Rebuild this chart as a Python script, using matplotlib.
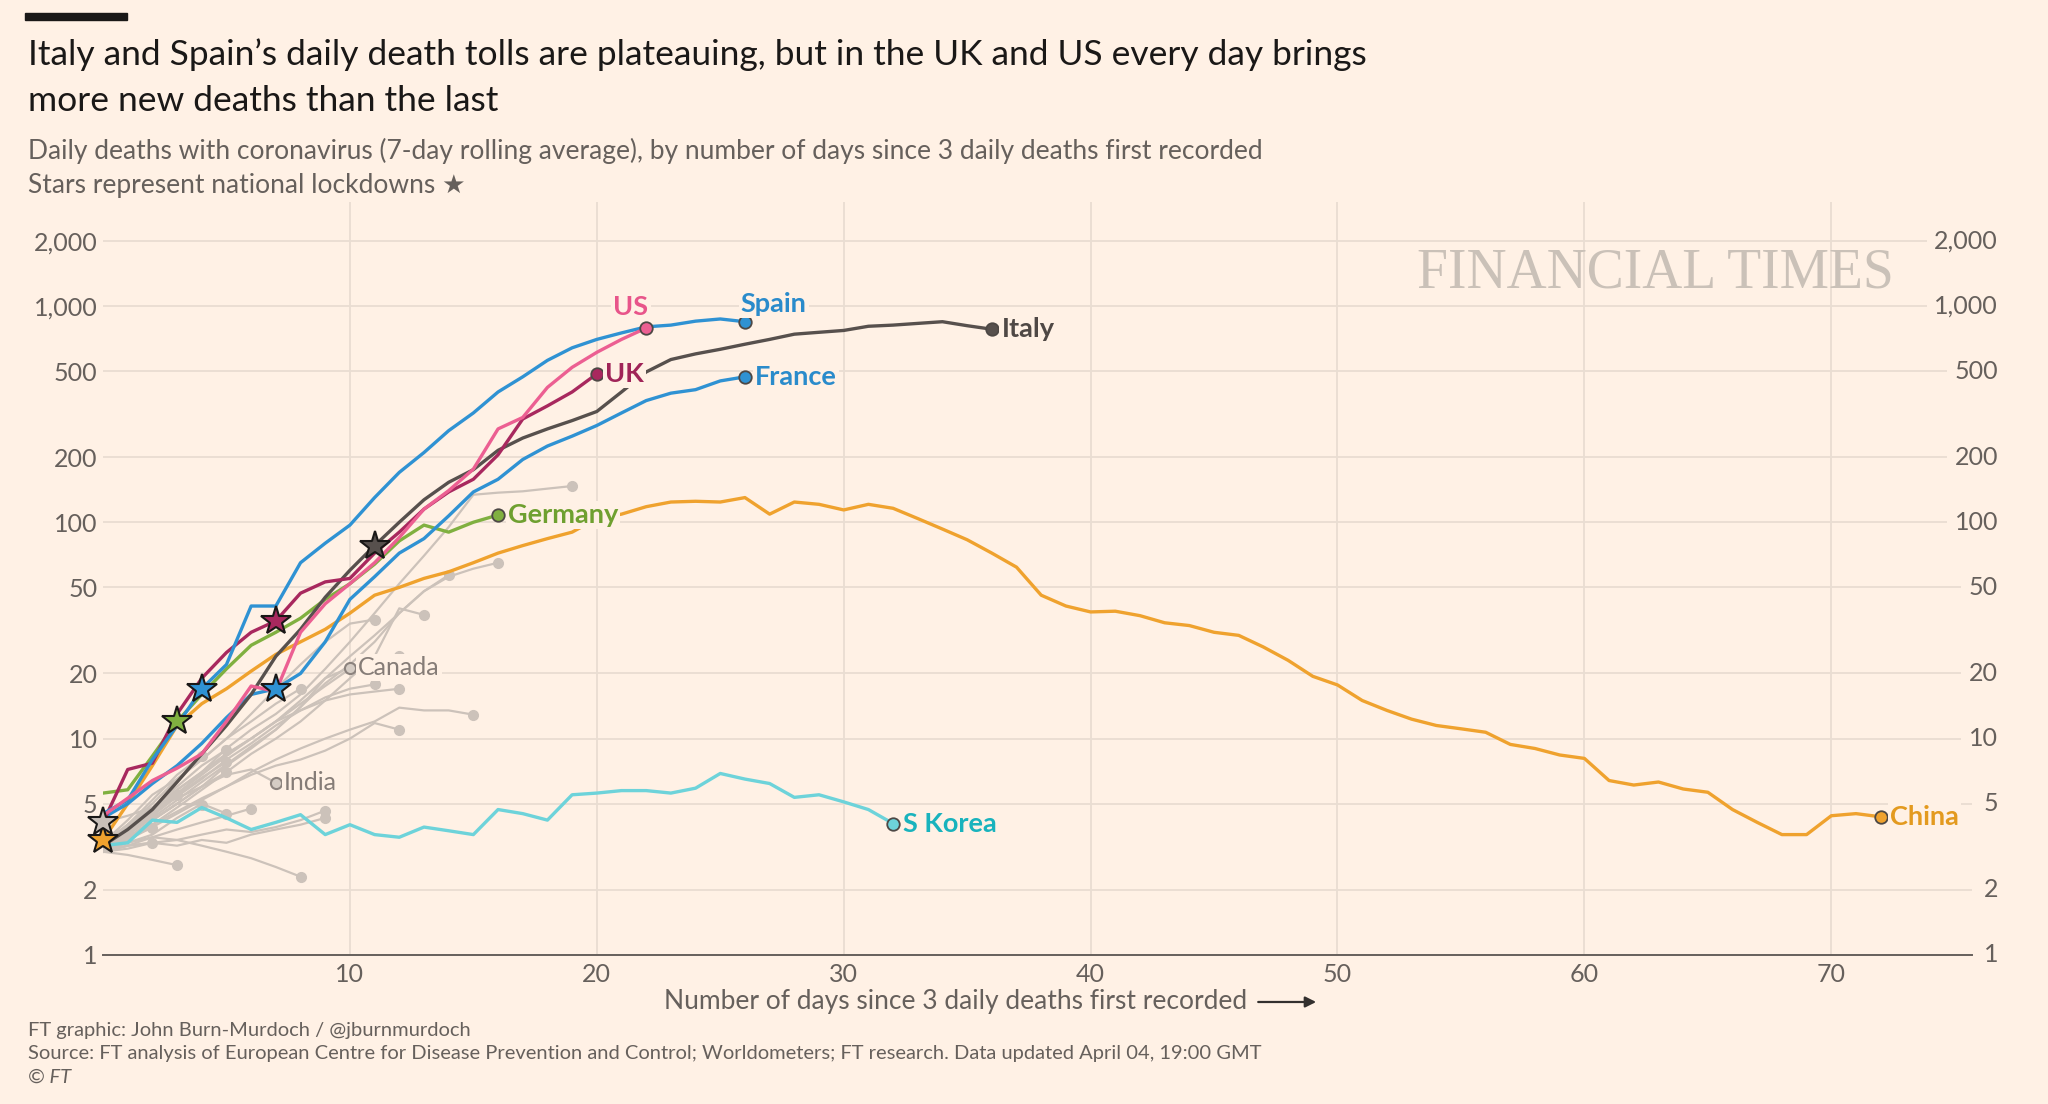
import numpy as np
import matplotlib
matplotlib.use("Agg")
import matplotlib.pyplot as plt
from matplotlib.patches import Rectangle
from matplotlib.transforms import blended_transform_factory

plt.rcParams['font.family'] = ['Lato', 'DejaVu Sans']

# ---- data (7-day avg daily deaths, by day since 3 daily deaths) ----
italy = [3.2, 3.8, 4.7, 6.3, 8.5, 11.5, 16, 24, 32, 45, 60, 78, 100, 127, 153, 175, 215,
         245, 270, 295, 325, 400, 495, 565, 600, 630, 665, 700, 740, 755, 770, 805, 815,
         830, 845, 810, 780]
spain = [4.5, 5.2, 8, 11.5, 17, 22, 41, 41, 65, 80, 97, 130, 170, 210, 265, 320, 400,
         470, 560, 640, 700, 750, 800, 815, 850, 870, 845]
us = [4.4, 5.3, 6.4, 7.3, 8.5, 12, 17.5, 16.5, 31, 42, 52, 65, 85, 115, 140, 176, 270,
      305, 420, 520, 610, 700, 790]
uk = [4.1, 7.2, 7.7, 13, 19, 25, 31, 35, 47, 53, 55, 72, 90, 115, 138, 158, 205, 300,
      345, 400, 485]
france = [4.3, 5.0, 6.2, 7.5, 9.5, 12.5, 16, 17, 20, 28, 44, 56, 72, 84, 107, 138, 158,
          195, 225, 250, 280, 320, 365, 395, 410, 450, 470]
germany = [5.6, 5.8, 8.3, 12, 16, 21, 27, 31, 36, 44, 52, 64, 82, 97, 90, 100, 108]
china = [3.4, 5.0, 7.5, 11.5, 14.5, 17, 20.5, 24.5, 28, 32, 38, 46, 50, 55, 59, 65, 72,
         78, 84, 90, 104, 109, 118, 124, 125, 124, 130, 109, 124, 121, 114, 121, 116,
         104, 93, 83, 72, 62, 46, 41, 38.5, 38.8, 37, 34.3, 33.3, 31, 30, 26.5, 23, 19.4,
         17.7, 15, 13.5, 12.3, 11.5, 11.1, 10.7, 9.4, 9.0, 8.4, 8.1, 6.4, 6.1, 6.3, 5.85,
         5.65, 4.7, 4.1, 3.6, 3.6, 4.4, 4.5, 4.35]
skorea = [3.2, 3.3, 4.2, 4.1, 4.8, 4.3, 3.8, 4.1, 4.45, 3.6, 4.0, 3.6, 3.5, 3.9, 3.75,
          3.6, 4.7, 4.5, 4.2, 5.5, 5.6, 5.75, 5.75, 5.6, 5.9, 6.9, 6.5, 6.2, 5.35, 5.5,
          5.1, 4.7, 4.05]
canada = [3.0, 3.6, 4.3, 5.2, 6.3, 7.6, 9.2, 11, 14, 19, 21.3]
india = [4.1, 4.4, 4.8, 5.3, 6.0, 6.8, 7.2, 6.25]

others = [
    [3.0, 3.6, 4.5, 5.5, 7.0, 9.0, 11, 13, 16, 21, 28, 38, 52, 70, 95, 134, 137, 139, 143, 147],
    [3.0, 3.4, 4.2, 5.0, 6.0, 7.5, 9.0, 11, 14, 18, 22, 28, 38, 48, 56, 61, 65],
    [3.2, 3.8, 4.5, 5.8, 7.0, 8.5, 10, 12, 15, 19, 24, 30, 38, 48, 57],
    [3.1, 3.5, 4.0, 4.8, 5.8, 7.0, 8.5, 10, 12, 15, 19, 24, 40, 37.3],
    [3.3, 4.2, 5.5, 6.5, 8.0, 10, 13, 17, 22, 28, 34, 35.5],
    [3.1, 3.8, 4.6, 5.6, 6.8, 8.3, 10, 12, 14.5, 17.5, 21, 23.5, 24],
    [3.2, 3.9, 4.8, 5.8, 7.0, 8.5, 10, 12, 13.5, 15.5, 17, 17.8],
    [3.0, 3.6, 4.4, 5.4, 6.5, 8.0, 9.5, 11.5, 13.5, 15, 16, 16.5, 17],
    [3.0, 3.4, 3.9, 4.5, 5.2, 6.0, 7.0, 8.0, 9.0, 10.0, 11.0, 12.0, 13.9, 13.5, 13.5, 12.9],
    [3.1, 3.5, 4.0, 4.6, 5.3, 6.0, 6.8, 7.5, 8.0, 8.8, 10, 11.8, 11],
    [3.2, 4.0, 5.0, 6.5, 8.0, 10, 12, 14.5, 17],
    [3.2, 4.0, 5.2, 6.8, 8.3],
    [3.0, 3.8, 4.8, 6.0, 7.5, 8.9],
    [3.1, 3.7, 4.5, 5.5, 6.6, 7.8],
    [3.0, 3.5, 4.2, 5.0, 6.0, 7.0],
    [3.3, 4.0, 4.8, 5.5],
    [3.0, 3.4, 4.2, 5.0, 4.95],
    [3.0, 3.3, 3.6, 4.3, 5.0, 4.5],
    [3.0, 3.2, 3.5, 3.8, 4.1, 4.4, 4.75],
    [3.1, 3.3, 3.5, 3.4, 3.6, 3.8, 3.7, 3.9, 4.2, 4.65],
    [3.0, 3.1, 3.3, 3.2, 3.4, 3.3, 3.6, 3.8, 4.0, 4.3],
    [3.2, 3.9, 4.5],
    [3.0, 3.5, 3.87],
    [3.0, 3.2, 3.3],
    [3.0, 2.9, 2.75, 2.6],
    [3.0, 3.2, 3.3, 3.4, 3.2, 3.0, 2.8, 2.55, 2.3],
    [3.0, 3.6],
]

lockdown_day = {'China': 0, 'India': 0, 'Germany': 3, 'Spain': 4, 'UK': 7,
                'France': 7, 'Italy': 11}

y_ticks = [1, 2, 5, 10, 20, 50, 100, 200, 500, 1000, 2000]
y_labels = ['1', '2', '5', '10', '20', '50', '100', '200', '500', '1,000', '2,000']
x_ticks = [10, 20, 30, 40, 50, 60, 70]

# ---- styles ----
bg = '#FFF1E5'
grid_c = '#E9DDD2'
txt_grey = '#66605C'
grey_line = '#CCC2BA'

main = [
    # name, data, line colour, label colour, label offset (pt), ha
    ('China', china, '#EFA22E', '#E39A1F', (7, 0), 'left'),
    ('S Korea', skorea, '#6DD3DA', '#19B3BD', (7, 0), 'left'),
    ('Germany', germany, '#80B040', '#6FA030', (7, 0), 'left'),
    ('France', france, '#2F92D3', '#2A8BCB', (7, 0), 'left'),
    ('Italy', italy, '#57504D', '#4F4845', (7, 0), 'left'),
    ('UK', uk, '#A8285E', '#A02458', (6, 0), 'left'),
    ('Spain', spain, '#2F92D3', '#2A8BCB', (-3, 13), 'left'),
    ('US', us, '#EC5F92', '#E8558A', (-11, 15), 'center'),
]
star_fill = {'China': '#EFA22E', 'India': '#C9C0B9', 'Germany': '#80B040',
             'Spain': '#2F92D3', 'UK': '#A8285E', 'France': '#2F92D3',
             'Italy': '#57504D'}

fig = plt.figure(figsize=(20.48, 11.04), dpi=100, facecolor=bg)
ax = fig.add_axes([0.0503, 0.135, 0.9126, 0.682])
ax.set_facecolor(bg)
ax.set_yscale('log')
ax.set_xlim(0, 75.7)
ax.set_ylim(1, 3020)

for s in ['top', 'right', 'left']:
    ax.spines[s].set_visible(False)
ax.spines['bottom'].set_color(txt_grey)
ax.spines['bottom'].set_linewidth(1.4)

ax.set_yticks(y_ticks)
ax.set_yticklabels(y_labels)
ax.yaxis.set_minor_locator(matplotlib.ticker.NullLocator())
ax.set_xticks(x_ticks)
ax.tick_params(axis='both', length=0, labelsize=18, labelcolor=txt_grey)
ax.tick_params(axis='y', pad=4)
ax.tick_params(axis='x', pad=6)
ax.grid(True, color=grid_c, linewidth=1.3, zorder=0)
ax.set_axisbelow(True)

# right hand labels
tr = blended_transform_factory(ax.transAxes, ax.transData)
for v, lab in zip(y_ticks, y_labels):
    ax.text(1.0139, v, lab, transform=tr, ha='right', va='center', fontsize=18,
            color=txt_grey, zorder=5, clip_on=False,
            bbox=dict(boxstyle='square,pad=0.3', fc=bg, ec='none'))

label_box = dict(boxstyle='square,pad=0.08', fc=bg, ec='none')

# grey countries
for vals in others:
    d = np.arange(len(vals))
    ax.plot(d, vals, color=grey_line, lw=1.6, zorder=2, solid_joinstyle='round')
    ax.plot(d[-1], vals[-1], 'o', color=grey_line, ms=7, zorder=2)

for name, vals in [('Canada', canada), ('India', india)]:
    d = np.arange(len(vals))
    ax.plot(d, vals, color=grey_line, lw=1.6, zorder=2)
    ax.plot(d[-1], vals[-1], 'o', mfc='#D5CCC4', mec='#8C837E', mew=1.5, ms=8, zorder=3)
    ax.annotate(name, (d[-1], vals[-1]), xytext=(6, 0), textcoords='offset points',
                ha='left', va='center', fontsize=18, color='#857C77', zorder=6,
                bbox=label_box)

series = {'Canada': canada, 'India': india}
for name, vals, lc, tc, off, ha in main:
    series[name] = vals
    d = np.arange(len(vals))
    ax.plot(d, vals, color=lc, lw=2.4, zorder=3, solid_joinstyle='round')
    ax.plot(d[-1], vals[-1], 'o', mfc=lc, mec='#4D4845', mew=1.3, ms=9, zorder=4)
    ax.annotate(name, (d[-1], vals[-1]), xytext=off, textcoords='offset points',
                ha=ha, va='center', fontsize=19.5, fontweight='bold', color=tc, zorder=6,
                bbox=label_box)

# lockdown stars
for name, day in lockdown_day.items():
    ax.plot(day, series[name][day], marker='*', ms=22, mfc=star_fill[name],
            mec='#1A1817', mew=1.5, zorder=7, clip_on=False)

# watermark
ax.text(0.958, 0.905, 'FINANCIAL TIMES', transform=ax.transAxes, ha='right', va='center',
        fontsize=40, color='#CAC1B8', family='Liberation Serif', zorder=1)

# header
fig.patches.append(Rectangle((25 / 2048, 1 - 20 / 1104), 102 / 2048, 7 / 1104,
                             transform=fig.transFigure, color='#1A1817'))
fig.text(0.0137, 0.9411, "Italy and Spain\u2019s daily death tolls are plateauing, but in the UK and US every day brings",
         fontsize=25.5, color='#1A1817', va='baseline')
fig.text(0.0137, 0.8995, "more new deaths than the last", fontsize=25.5, color='#1A1817',
         va='baseline')
fig.text(0.0137, 0.856, "Daily deaths with coronavirus (7-day rolling average), by number of days since 3 daily deaths first recorded",
         fontsize=19, color=txt_grey, va='baseline')
fig.text(0.0137, 0.8252, "Stars represent national lockdowns \u2605", fontsize=19,
         color=txt_grey, va='baseline')

# x axis label with arrow
fig.text(0.609, 0.0924, "Number of days since 3 daily deaths first recorded", fontsize=19,
         color=txt_grey, ha='right', va='center')
ax.annotate('', xy=(0.644, 0.0924), xytext=(0.613, 0.0924), xycoords='figure fraction',
            arrowprops=dict(arrowstyle='-|>', color='#33302E', lw=1.6, mutation_scale=16))

# footer
fig.text(0.0137, 0.0670, "FT graphic: John Burn-Murdoch / @jburnmurdoch", fontsize=14.5,
         color=txt_grey, va='center')
fig.text(0.0137, 0.0453, "Source: FT analysis of European Centre for Disease Prevention and Control; Worldometers; FT research. Data updated April 04, 19:00 GMT",
         fontsize=14.5, color=txt_grey, va='center')
fig.text(0.0137, 0.0245, "\u00a9 FT", fontsize=14.5, color=txt_grey, va='center', style='italic')

fig.savefig('out.png', dpi=100, facecolor=bg)
